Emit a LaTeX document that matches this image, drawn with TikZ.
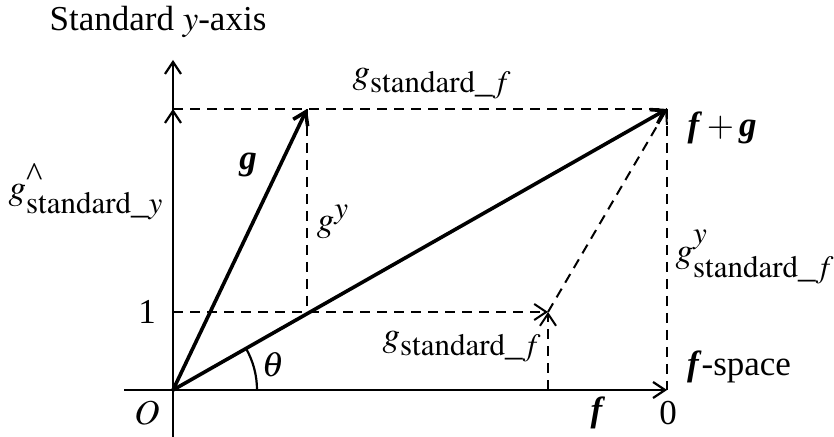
\documentclass[tikz,border=0pt]{standalone}
\usepackage{mathptmx}
\usepackage{fontspec}
\setmainfont{Liberation Serif}[BoldItalicFont={Liberation Serif Bold Italic}]
\usetikzlibrary{arrows.meta}
\DeclareMathSizes{17.5}{17.5}{15.5}{13}
\newcommand{\bv}[1]{\textbf{\textit{#1}}}

\begin{document}
\begin{tikzpicture}[x=0.5pt, y=-0.5pt, >={Straight Barb[length=6pt,width=8pt]},
    axis/.style={line width=1.1pt},
    vec/.style={line width=1.8pt, ->},
    guide/.style={line width=1pt, dash pattern=on 5pt off 3.5pt},
    lbl/.style={font=\fontsize{17.5}{21}\selectfont, inner sep=0pt}]
    \useasboundingbox (0,0) rectangle (834,437);

    % Points
    \coordinate (O) at (173,390);
    \coordinate (G) at (307,109);
    \coordinate (FG) at (667,109);
    \coordinate (Ytop) at (173,60);
    \coordinate (Ybot) at (173,437);
    \coordinate (Yg) at (173,109);
    \coordinate (One) at (173,312);
    \coordinate (M) at (307,312);
    \coordinate (P) at (548,312);
    \coordinate (Pb) at (548,390);
    \coordinate (Xstart) at (124,390);
    \coordinate (Xend) at (667,390);

    % Axes
    \draw[axis, ->] (Xstart) -- (Xend);
    \draw[axis, ->] (Ybot) -- (Ytop);
    \draw[axis, ->] (O) -- (Yg);

    % Projections
    \draw[guide] (Yg) -- (FG);
    \draw[guide] (G) -- (M);
    \draw[guide] (FG) -- (Xend);
    \draw[guide, ->] (One) -- (P);
    \draw[guide, ->] (Pb) -- (P);
    \draw[guide, ->] (P) -- (FG);

    % Vectors
    \draw[vec] (O) -- (G);
    \draw[vec] (O) -- (FG);

    % Angle
    \draw[axis] (O) ++(84,0) arc (0:-29.6:84);

    % Labels
    \node[lbl] (title) at (158,22) {Standard $y$-axis};
    \node[lbl] (gtop) at (432,84) {$g_{\mathrm{standard\_}f}$};
    \node[lbl] (gvec) at (248,165) {\bv{g}};
    \node[lbl] (ghat) at (86,192) {$g^{\mbox{\textasciicircum}}_{\mathrm{standard\_}y}$};
    \node[lbl] (gy) at (333,222) {$g^{y}$};
    \node[lbl] (sum) at (722,128) {$\bv{f}+\bv{g}$};
    \node[lbl] (gyf) at (755,257) {$g^{y}_{\mathrm{standard\_}f}$};
    \node[lbl] (one) at (147,312) {1};
    \node[lbl] (gbot) at (462,347) {$g_{\mathrm{standard\_}f}$};
    \node[lbl] (theta) at (273,365) {$\theta$};
    \node[lbl] (fspace) at (739,367) {\bv{f}-space};
    \node[lbl] (orig) at (147,413) {$O$};
    \node[lbl] (fvec) at (598,413) {\bv{f}};
    \node[lbl] (zero) at (668,413) {0};
\end{tikzpicture}
\end{document}
